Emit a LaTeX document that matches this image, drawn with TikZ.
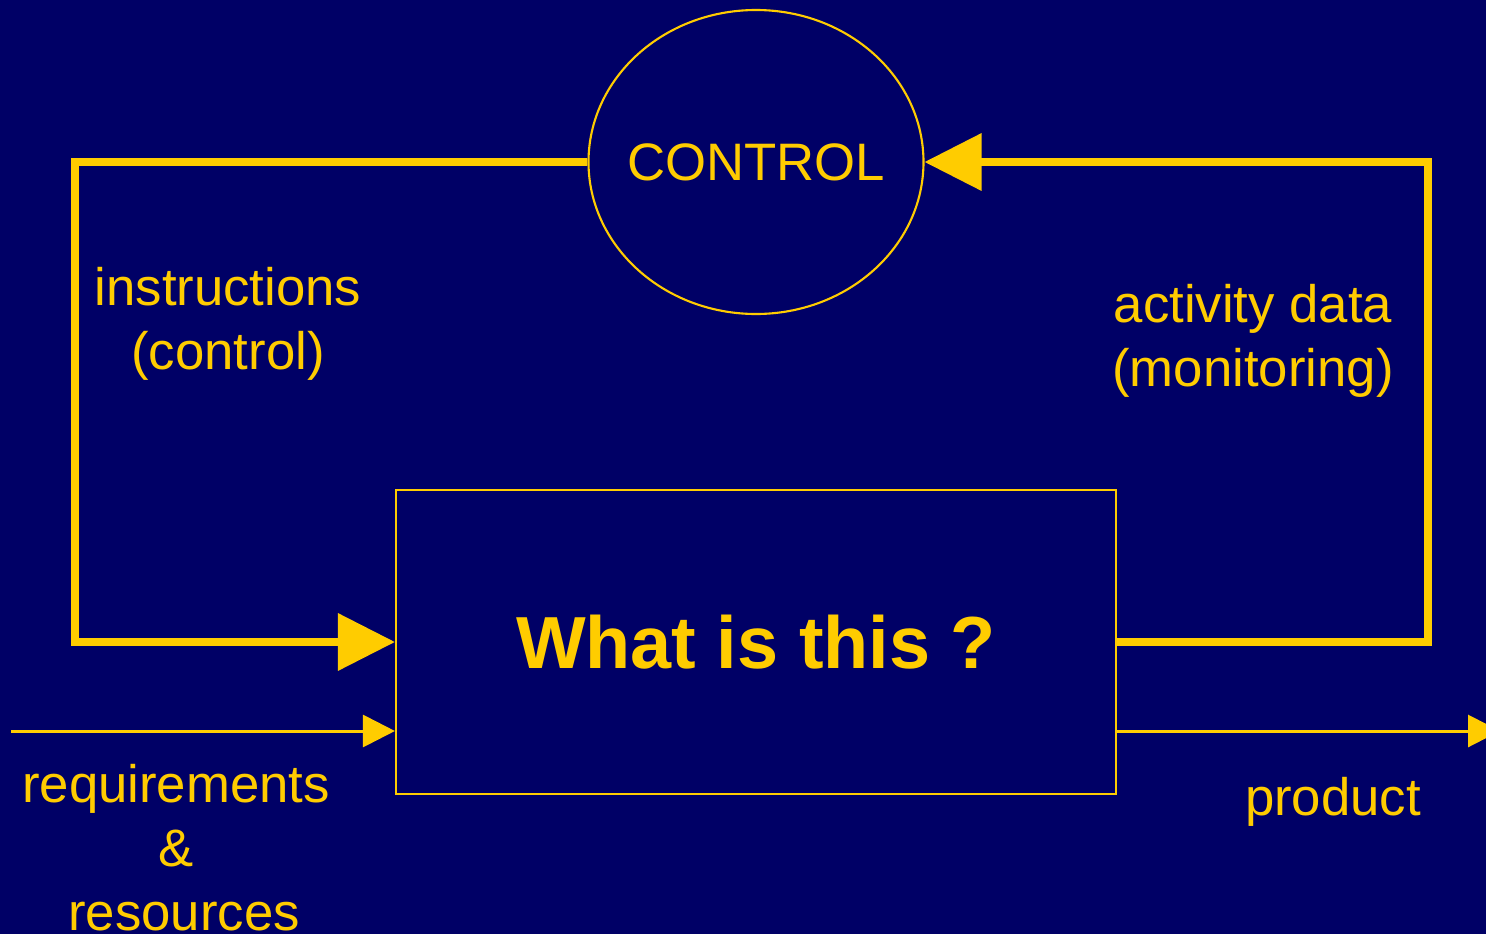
\documentclass[tikz,border=0pt]{standalone}
\usepackage{fontspec}
\setmainfont{Liberation Sans}
\usepackage{tikz}
\usetikzlibrary{calc}
\usetikzlibrary{positioning}
\usetikzlibrary{shapes.geometric}
\usetikzlibrary{arrows.meta}
\definecolor{navy}{RGB}{0,0,102}
\definecolor{gold}{RGB}{255,204,0}

\begin{document}
\begin{tikzpicture}[
		every node/.style={text=gold, font=\fontsize{15}{18.2}\selectfont},
		loopline/.style={draw=gold, line width=2pt, -{Triangle[length=5.7mm, width=5.6mm]}},
		flowline/.style={draw=gold, line width=0.85pt, -{Triangle[length=3.2mm, width=3.2mm]}}]
			\fill[navy] (0, 0) rectangle (14.86, 9.34);
			\useasboundingbox (0, 0) rectangle (14.86, 9.34);
			\node[ellipse, draw=gold, line width=0.6pt, minimum width=3.35cm, minimum height=3.04cm, inner sep=0pt] (ctrl) at (7.56, 7.72) {\makebox[0pt]{CONTROL}};
			\node[rectangle, draw=gold, line width=0.6pt, minimum width=7.2cm, minimum height=3.04cm, font=\fontsize{21}{25}\selectfont\bfseries] (task) at (7.56, 2.92) {What is this ?};
			\node[align=center] (instr) at (2.28, 6.10) {instructions\\(control)};
			\node[align=center] (activ) at (12.53, 5.93) {activity data\\(monitoring)};
			\node[align=center] (req) at (1.76, 0.86) {requirements\\\&\\\hspace*{0.16cm}resources};
			\node (prod) at (13.33, 1.32) {product};
			\coordinate (in) at (0.11, 2.03);
			\coordinate (out) at (15.0, 2.03);
			\draw[loopline] (ctrl.west) -- (0.75, 7.72) |- (task.west);
			\draw[loopline] (task.east) -- (14.28, 2.92) |- (ctrl.east);
			\draw[flowline] (in) -- (in -| task.west);
			\draw[flowline] (out -| task.east) -- (out);
		\end{tikzpicture}
\end{document}
